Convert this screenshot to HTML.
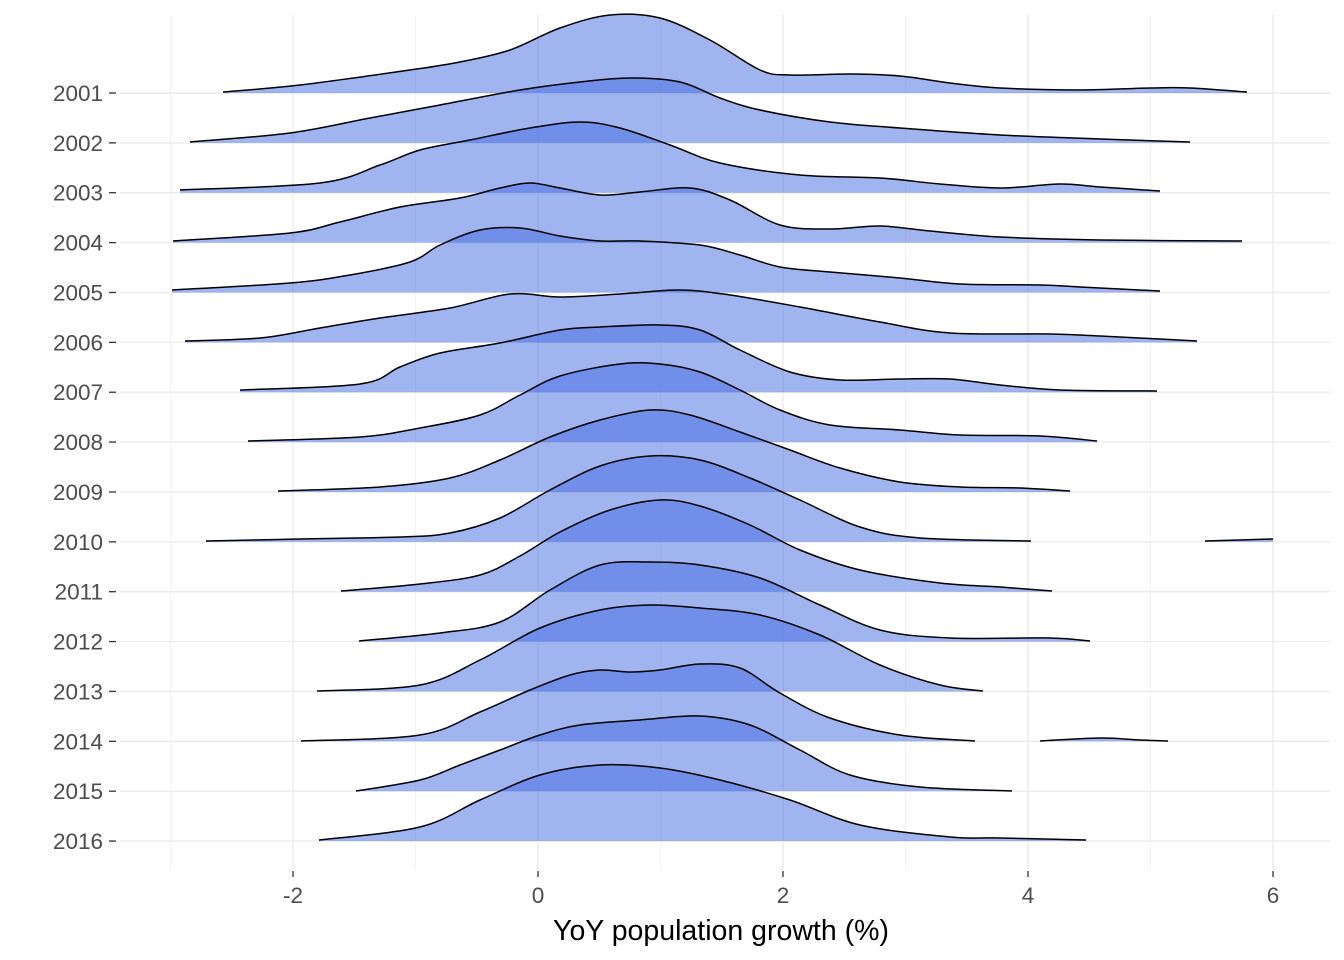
<!DOCTYPE html>
<html><head><meta charset="utf-8"><style>
body{margin:0;background:#fff}
svg{display:block;font-family:"Liberation Sans",Arial,sans-serif}
</style></head><body>
<svg id="s" width="1344" height="960" xmlns="http://www.w3.org/2000/svg"></svg>
<script>
const s=document.getElementById('s');
let h='';
const X=v=>538+122.5*v;
[-3,-1,1,3,5].forEach(v=>{h+=`<line x1="${X(v)}" y1="15" x2="${X(v)}" y2="870" stroke="#f0f0f0" stroke-width="0.8"/>`});
[-2,0,2,4,6].forEach(v=>{h+=`<line x1="${X(v)}" y1="15" x2="${X(v)}" y2="870" stroke="#ebebeb" stroke-width="1.4"/>`;
h+=`<line x1="${X(v)}" y1="871" x2="${X(v)}" y2="877" stroke="#333" stroke-width="1.3"/>`;
h+=`<text x="${X(v)}" y="903" text-anchor="middle" font-size="22.5" fill="#4d4d4d">${v}</text>`});
const years=[];for(let i=0;i<16;i++)years.push(2001+i);
const B=i=>93+i*49.87;
years.forEach((y,i)=>{h+=`<line x1="120" y1="${B(i)}" x2="1330" y2="${B(i)}" stroke="#ebebeb" stroke-width="1.4"/>`;
h+=`<line x1="109" y1="${B(i)}" x2="116" y2="${B(i)}" stroke="#333" stroke-width="1.3"/>`;
h+=`<text x="103" y="${B(i)+8}" text-anchor="end" font-size="22.5" fill="#4d4d4d">${y}</text>`});
const R=[
[[223,92],[300,85],[410,70],[460,62],[510,50],[560,28],[610,15],[660,18],[710,40],[760,70],[790,75],[850,74],[900,76],[950,83],[1000,88],[1080,90],[1150,88],[1190,88],[1247,92]],
[[190,142],[290,133],[370,118],[440,105],[520,90],[580,82],[630,78],[680,82],[720,98],[760,110],[830,122],[900,128],[1000,135],[1100,139],[1190,142]],
[[180,190],[320,183],[380,165],[420,150],[470,140],[530,128],[580,122],[620,128],[670,145],[720,163],[800,175],[880,178],[940,184],[1000,188],[1060,184],[1100,187],[1160,191]],
[[173,241],[290,233],[340,222],[400,207],[460,198],[500,188],[530,183],[560,188],[600,195],[640,192],[690,188],[730,200],[780,225],[830,229],[880,226],[930,231],[1000,237],[1100,240],[1242,241]],
[[172,290],[290,283],[350,275],[410,262],[440,245],[480,230],[520,228],[560,236],[600,241],[640,241],[700,245],[740,255],[780,267],[830,272],[900,278],[960,284],[1040,285],[1080,287],[1160,291]],
[[185,341],[260,338],[320,328],[380,318],[450,308],[510,294],[560,297],[620,294],[680,290],[730,295],[800,307],[880,322],[950,333],[1050,334],[1100,336],[1197,341]],
[[240,390],[360,384],[400,367],[440,353],[500,343],[560,330],[600,327],[660,325],[700,330],[740,350],[790,372],[840,380],[900,379],[950,379],[1000,385],[1060,390],[1157,391]],
[[248,441],[360,437],[420,428],[480,415],[520,395],[560,376],[620,364],[660,364],[700,372],[740,390],[780,410],[830,425],[900,430],[960,435],[1040,436],[1097,441]],
[[278,491],[380,487],[450,478],[500,460],[550,437],[600,420],[650,410],[690,415],[740,432],[790,450],[840,468],[900,482],[960,487],[1020,488],[1070,491]],
[[206,541],[300,539],[400,537],[450,533],[500,518],[550,490],[600,466],[650,456],[700,460],[750,478],[800,500],[860,527],[920,538],[1031,541]],
[[341,591],[420,584],[480,575],[520,556],[560,532],[610,510],[660,500],[700,506],[750,525],[800,550],[860,570],[940,583],[1000,587],[1052,591]],
[[359,641],[440,633],[500,622],[550,590],[600,565],[650,562],[700,565],[760,578],[820,605],[880,630],[950,638],[1050,638],[1090,641]],
[[317,691],[420,685],[480,660],[540,628],[600,610],[650,605],[700,608],[760,615],[820,635],[880,665],[940,685],[983,691]],
[[301,741],[420,735],[480,712],[530,690],[570,675],[600,670],[630,672],[660,670],[700,664],[740,668],[780,693],[830,718],[900,735],[975,741]],
[[356,791],[420,780],[460,765],[500,750],[540,735],[580,725],[640,720],[700,716],[750,725],[800,750],[850,775],[920,787],[1012,791]],
[[319,840],[420,827],[480,800],[540,775],[600,765],[660,768],[720,780],[790,800],[860,825],[950,837],[1000,838],[1086,840]]
];
const extra={9:[[1205,541],[1240,540],[1273,539]],13:[[1040,741],[1100,738],[1140,740],[1168,741]]};
function smooth(p){let d=`M${p[0][0]},${p[0][1]}`;
for(let i=0;i<p.length-1;i++){const p0=p[i-1]||p[i],p1=p[i],p2=p[i+1],p3=p[i+2]||p2;
d+=` C${p1[0]+(p2[0]-p0[0])/6},${p1[1]+(p2[1]-p0[1])/6} ${p2[0]-(p3[0]-p1[0])/6},${p2[1]-(p3[1]-p1[1])/6} ${p2[0]},${p2[1]}`;}
return d;}
function ridge(p,b){const d=smooth(p);
h+=`<path d="${d} L${p[p.length-1][0]},${b} L${p[0][0]},${b}Z" fill="rgba(65,105,225,0.5)"/>`;
h+=`<path d="${d}" fill="none" stroke="#000" stroke-width="1.5"/>`;}
R.forEach((p,i)=>{ridge(p,B(i));if(extra[i])ridge(extra[i],B(i));});
h+=`<text x="721" y="940" text-anchor="middle" font-size="28.5" fill="#000">YoY population growth (%)</text>`;
s.innerHTML=h;
</script>
</body></html>
